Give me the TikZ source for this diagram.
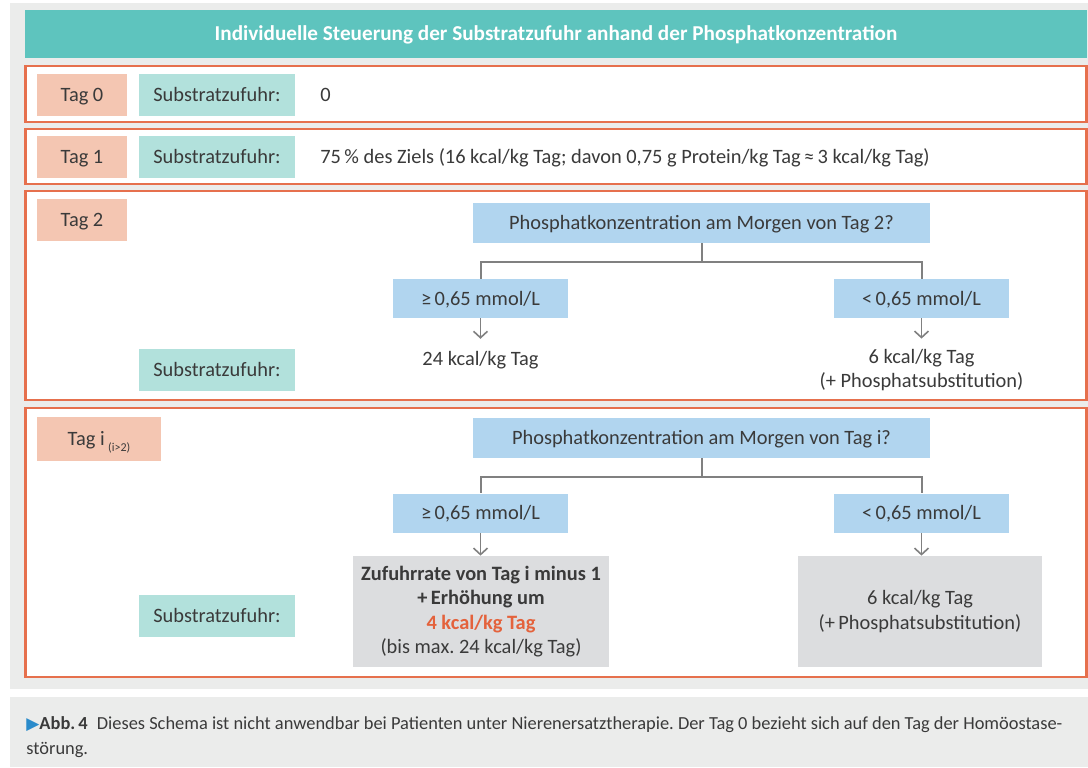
\documentclass[tikz,border=0pt]{standalone}
\usepackage{fontspec}
\setmainfont{Carlito}
\newfontfamily\symfont{DejaVu Sans}
\usetikzlibrary{positioning,arrows.meta}
\frenchspacing

\definecolor{panelgray}{HTML}{EBECEB}
\definecolor{headteal}{HTML}{5EC4BE}
\definecolor{frameor}{HTML}{E6704D}
\definecolor{tagsalmon}{HTML}{F4C6B2}
\definecolor{subteal}{HTML}{B2E1DC}
\definecolor{qblue}{HTML}{B1D5EF}
\definecolor{resgray}{HTML}{DCDDDF}
\definecolor{linegray}{HTML}{808080}
\definecolor{txtgray}{HTML}{3A3A3A}
\definecolor{hiorange}{HTML}{E4623C}
\definecolor{capblue}{HTML}{2A8BCB}

\begin{document}
\begin{tikzpicture}[x=0.5pt, y=-0.5pt,
        every node/.style={text=txtgray, font=\fontsize{10.2}{12.3}\selectfont, inner sep=0pt},
        onerow/.style={text height=6.6pt, text depth=0pt},
        tagbox/.style={onerow, fill=tagsalmon, minimum width=45pt, minimum height=21pt},
        subbox/.style={onerow, fill=subteal, minimum width=78pt, minimum height=21pt},
        qbox/.style={onerow, fill=qblue, minimum width=228.5pt, minimum height=20pt},
        condbox/.style={onerow, fill=qblue, minimum width=87.5pt, minimum height=19.5pt},
        resbox/.style={fill=resgray, minimum height=55.5pt, align=center},
        dayframe/.style={draw=frameor, line width=1.2pt, fill=white},
        branch/.style={draw=linegray, line width=1pt},
        arr/.style={draw=linegray, line width=0.8pt, -{Straight Barb[length=3.2pt,width=7pt]}}
    ]
        \useasboundingbox (0,0) rectangle (1088,767);

        % Background panels
        \fill[panelgray] (10,3) rectangle (1088,689);
        \fill[panelgray] (10,697) rectangle (1088,767);

        % Title bar
        \node[onerow, fill=headteal, minimum width=531pt, minimum height=24pt, text=white,
              font=\fontsize{10.6}{12}\selectfont\bfseries] (head) at (556,34)
            {Individuelle Steuerung der Substratzufuhr anhand der Phosphatkonzentration};

        % One frame per day
        \foreach \top/\bot in {66/122, 129/184, 191/400, 408/677} {
            \draw[dayframe] (25.5,\top) rectangle (1086.5,\bot);
        }

        % Day labels
        \foreach \n/\y in {0/95, 1/156.5, 2/220} {
            \node[tagbox] (tag\n) at (82,\y) {Tag \n};
        }
        \node[tagbox, minimum width=62pt, minimum height=22pt] (tagi) at (99,439)
            {Tag i\,{\fontsize{6}{7}\selectfont\raisebox{-3pt}{(i>2)}}};

        % Substratzufuhr boxes
        \foreach \n/\y in {0/95, 1/156.5, 2/370, i/616} {
            \node[subbox] (sub\n) at (217,\y) {Substratzufuhr:};
        }

        % Tag 0 and Tag 1
        \node[onerow, anchor=west] (val0) at (320,95) {0};
        \node[onerow, anchor=west] (val1) at (320,156.5)
            {75\,\% des Ziels (16 kcal/kg Tag; davon 0,75 g Protein/kg Tag\,≈\,3 kcal/kg Tag)};

        % Tag 2
        \node[qbox] (q2) at (701.5,223) {Phosphatkonzentration am Morgen von Tag 2?};
        \node[condbox] (c2l) at (480.5,298.5) {≥\,0,65 mmol/L};
        \node[condbox] (c2r) at (921.5,298.5) {<\,0,65 mmol/L};
        \node (r2l) at (480.5,360) {24 kcal/kg Tag};
        \node[align=center] (r2r) at (921.5,370) {6 kcal/kg Tag\\(+ Phosphatsubstitution)};

        \draw[branch] (q2.south) -- ++(0,19) -| (c2l.north);
        \draw[branch] (q2.south) -- ++(0,19) -| (c2r.north);
        \draw[arr, shorten >=6pt] (c2l.south) -- (r2l.north);
        \draw[arr, shorten >=5pt] (c2r.south) -- (r2r.north -| c2r.south);

        % Tag i
        \node[qbox] (qi) at (701.5,438) {Phosphatkonzentration am Morgen von Tag i?};
        \node[condbox] (cil) at (480.5,513) {≥\,0,65 mmol/L};
        \node[condbox] (cir) at (921.5,513) {<\,0,65 mmol/L};
        \node[resbox, minimum width=128pt] (ril) at (481,611.5)
            {\bfseries Zufuhrrate von Tag i minus 1\\\bfseries +\,Erhöhung um\\
             \bfseries\color{hiorange}4 kcal/kg Tag\\(bis max. 24 kcal/kg Tag)};
        \node[resbox, minimum width=122pt] (rir) at (920,611.5)
            {6 kcal/kg Tag\\(+\,Phosphatsubstitution)};

        \draw[branch] (qi.south) -- ++(0,19) -| (cil.north);
        \draw[branch] (qi.south) -- ++(0,19) -| (cir.north);
        \draw[arr] (cil.south) -- (cil.south |- ril.north);
        \draw[arr] (cir.south) -- (cir.south |- rir.north);

        % Caption
        \node[anchor=west, align=left, font=\fontsize{9.2}{12.4}\selectfont] (cap) at (26,737.5)
            {{\symfont\fontsize{8.5}{8}\selectfont\color{capblue}▶}\textbf{Abb.\,4}\enspace Dieses Schema ist nicht anwendbar bei Patienten unter Nierenersatztherapie. Der Tag 0 bezieht sich auf den Tag der Homöostase-\\störung.};
\end{tikzpicture}
\end{document}
